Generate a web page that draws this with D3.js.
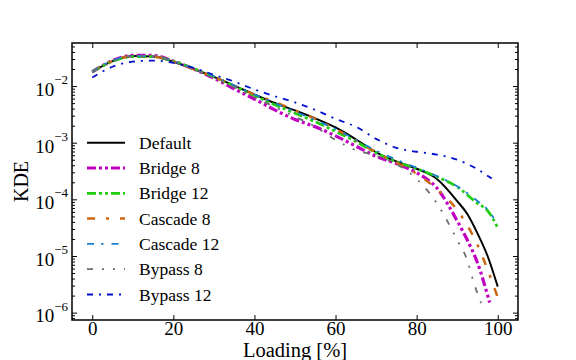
<!DOCTYPE html>
<html>
<head>
<meta charset="utf-8">
<script src="https://cdn.jsdelivr.net/npm/d3@7"></script>
<style>
  body { margin: 0; background: #fff; }
</style>
</head>
<body>
<div id="chart"></div>
<script>
// valeurs : [loading %, KDE]
const defaultKDE = [[0,1.78e-2],[5,2.75e-2],[10,3.39e-2],[15,3.31e-2],[20,2.69e-2],[25,2.00e-2],[30,1.45e-2],[35,1.02e-2],[40,7.08e-3],[45,5.01e-3],[50,3.72e-3],[55,2.69e-3],[60,1.86e-3],[65,1.15e-3],[70,6.76e-4],[75,4.68e-4],[80,3.47e-4],[85,2.29e-4],[90,9.33e-5],[92.5,5.50e-5],[95,2.51e-5],[97.5,1.0e-5],[100,2.88e-6]];
const bridge8 = [[0,1.78e-2],[5,2.82e-2],[10,3.47e-2],[15,3.47e-2],[20,2.75e-2],[25,2.00e-2],[30,1.38e-2],[35,8.91e-3],[40,5.89e-3],[45,3.80e-3],[50,2.57e-3],[55,1.91e-3],[60,1.32e-3],[65,8.71e-4],[70,5.75e-4],[75,4.27e-4],[80,2.95e-4],[85,1.58e-4],[90,4.17e-5],[92.5,1.91e-5],[95,7.59e-6],[98,1.51e-6]];
const bridge12 = [[0,1.78e-2],[5,2.75e-2],[10,3.31e-2],[15,3.31e-2],[20,2.75e-2],[25,2.04e-2],[30,1.45e-2],[35,1.00e-2],[40,6.76e-3],[45,4.68e-3],[50,3.31e-3],[55,2.34e-3],[60,1.58e-3],[65,1.05e-3],[70,6.61e-4],[75,4.57e-4],[80,3.47e-4],[85,2.51e-4],[90,1.66e-4],[95,8.51e-5],[97.5,6.31e-5],[100,3.16e-5]];
const cascade8 = [[0,1.82e-2],[5,2.75e-2],[10,3.39e-2],[15,3.31e-2],[20,2.69e-2],[25,2.00e-2],[30,1.45e-2],[35,1.02e-2],[40,7.08e-3],[45,5.25e-3],[50,3.72e-3],[55,2.63e-3],[60,1.74e-3],[65,1.10e-3],[70,6.76e-4],[75,4.47e-4],[80,2.82e-4],[85,1.51e-4],[90,6.46e-5],[92.5,3.47e-5],[95,1.58e-5],[97.5,5.75e-6],[100,1.86e-6]];
const cascade12 = [[0,1.82e-2],[5,2.82e-2],[10,3.39e-2],[15,3.31e-2],[20,2.75e-2],[25,2.04e-2],[30,1.48e-2],[35,1.02e-2],[40,7.08e-3],[45,5.01e-3],[50,3.55e-3],[55,2.51e-3],[60,1.74e-3],[65,1.12e-3],[70,7.24e-4],[75,5.01e-4],[80,3.63e-4],[85,2.57e-4],[90,1.70e-4],[95,9.33e-5],[97.5,6.61e-5],[99,4.68e-5]];
const bypass8 = [[0,1.74e-2],[5,2.69e-2],[10,3.31e-2],[15,3.31e-2],[20,2.75e-2],[25,2.04e-2],[30,1.41e-2],[35,9.55e-3],[40,6.31e-3],[45,4.27e-3],[50,2.88e-3],[55,1.91e-3],[60,1.12e-3],[65,7.41e-4],[70,5.89e-4],[75,4.17e-4],[80,2.29e-4],[85,8.51e-5],[90,1.91e-5],[92.5,8.32e-6],[94,3.55e-6],[96,1.41e-6]];
const bypass12 = [[0,1.41e-2],[5,2.19e-2],[10,2.69e-2],[15,2.82e-2],[20,2.57e-2],[25,2.09e-2],[30,1.58e-2],[35,1.20e-2],[40,8.71e-3],[45,6.61e-3],[50,5.13e-3],[55,3.80e-3],[60,2.63e-3],[65,1.91e-3],[70,1.17e-3],[75,8.13e-4],[80,6.92e-4],[85,6.17e-4],[90,5.01e-4],[95,3.39e-4],[98.5,2.34e-4]];

const seriesNames = ["Default", "Bridge 8", "Bridge 12", "Cascade 8", "Cascade 12", "Bypass 8", "Bypass 12"];
const seriesData = [defaultKDE, bridge8, bridge12, cascade8, cascade12, bypass8, bypass12];
const xTicks = [0, 20, 40, 60, 80, 100];
const yTicks = [1e-6, 1e-5, 1e-4, 1e-3, 1e-2];

// styles des courbes
const colors = ["#000000", "#c000c0", "#22cc11", "#cc6611", "#1a80d0", "#6e6e6e", "#0010cc"];
const widths = [2, 3.2, 2.8, 2.5, 1.8, 1.8, 1.8];
const dashes = [null, "9,3,3,3,3,3", "9,3,3,3,3,3", "8,11,3,11", "7,7,2.5,8", "6,9,2,9,2,9", "6,6,2,6"];

const serif = "Liberation Serif";

const width = 576, height = 360;
const mLeft = 72, mRight = 518, mTop = 43, mBottom = 320;

const x = d3.scaleLinear().domain([-5, 105]).range([mLeft, mRight]);
const y = d3.scaleLog().domain([Math.pow(10, -6.13), Math.pow(10, -1.24)]).range([mBottom, mTop]);

const svg = d3.select("#chart").append("svg")
    .attr("width", width)
    .attr("height", height)
    .attr("font-family", serif);

svg.append("clipPath").attr("id", "clip")
  .append("rect")
    .attr("x", mLeft).attr("y", mTop)
    .attr("width", mRight - mLeft).attr("height", mBottom - mTop);

// courbes
const line = d3.line()
    .x(d => x(d[0]))
    .y(d => y(d[1]))
    .curve(d3.curveMonotoneX);

const g = svg.append("g").attr("clip-path", "url(#clip)");
seriesData.forEach((data, i) => {
  g.append("path")
    .attr("d", line(data))
    .attr("fill", "none")
    .attr("stroke", colors[i])
    .attr("stroke-width", widths[i])
    .attr("stroke-dasharray", dashes[i]);
});

// ticks mineurs du log
const minor = [];
yTicks.concat([1e-1]).forEach(t => {
  for (let k = 2; k <= 9; k++) minor.push(t / 10 * k);
});
const yMinor = minor.filter(v => v >= y.domain()[0] && v <= y.domain()[1]);

const fontSize = 19;

svg.append("g")
    .attr("transform", `translate(0,${mBottom})`)
    .call(d3.axisBottom(x).tickValues(xTicks).tickSize(-5).tickPadding(1.5))
    .call(s => s.attr("font-family", serif).attr("font-size", fontSize))
    .call(s => s.select(".domain").remove())
    .call(s => s.selectAll("text").attr("fill", "#000"));

svg.append("g")
    .attr("transform", `translate(0,${mTop})`)
    .call(d3.axisTop(x).tickValues(xTicks).tickSize(-5).tickFormat(""))
    .call(s => s.select(".domain").remove());

const exps = { 1e-6: "\u22126", 1e-5: "\u22125", 1e-4: "\u22124", 1e-3: "\u22123", 1e-2: "\u22122" };

const yAxis = svg.append("g")
    .attr("transform", `translate(${mLeft},0)`)
    .call(d3.axisLeft(y).tickValues(yTicks).tickSize(-5).tickFormat(""))
    .call(s => s.attr("font-family", serif).attr("font-size", fontSize))
    .call(s => s.select(".domain").remove());
yAxis.selectAll(".tick").append("text")
    .attr("x", -4)
    .attr("y", 9.3)
    .attr("text-anchor", "end")
    .attr("fill", "#000")
    .each(function(d) {
      const t = d3.select(this);
      t.append("tspan").text("10");
      t.append("tspan").attr("dy", -11.7).attr("font-size", 13).text(exps[d]);
    });

svg.append("g")
    .attr("transform", `translate(${mLeft},0)`)
    .call(d3.axisLeft(y).tickValues(yMinor).tickSize(-3).tickFormat(""))
    .call(s => s.select(".domain").remove());

svg.append("g")
    .attr("transform", `translate(${mRight},0)`)
    .call(d3.axisRight(y).tickValues(yTicks).tickSize(-5).tickFormat(""))
    .call(s => s.select(".domain").remove());

svg.append("g")
    .attr("transform", `translate(${mRight},0)`)
    .call(d3.axisRight(y).tickValues(yMinor).tickSize(-3).tickFormat(""))
    .call(s => s.select(".domain").remove());

svg.selectAll(".tick line").attr("stroke", "#000").attr("stroke-width", 1);

// cadre
svg.append("rect")
    .attr("x", mLeft).attr("y", mTop)
    .attr("width", mRight - mLeft).attr("height", mBottom - mTop)
    .attr("fill", "none")
    .attr("stroke", "#000")
    .attr("stroke-width", 1.5);

// titres des axes
svg.append("text")
    .attr("x", (mLeft + mRight) / 2)
    .attr("y", 357)
    .attr("text-anchor", "middle")
    .attr("font-size", 20.5)
    .text("Loading [%]");

svg.append("text")
    .attr("transform", `translate(28,${(mTop + mBottom) / 2}) rotate(-90)`)
    .attr("text-anchor", "middle")
    .attr("font-size", 20)
    .text("KDE");

// légende
const legend = svg.append("g").attr("font-size", 17.5);
seriesNames.forEach((name, i) => {
  const ly = 142.7 + i * 25.3;
  legend.append("line")
    .attr("x1", 87).attr("x2", 125)
    .attr("y1", ly).attr("y2", ly)
    .attr("stroke", colors[i])
    .attr("stroke-width", widths[i])
    .attr("stroke-dasharray", dashes[i]);
  legend.append("text")
    .attr("x", 139)
    .attr("y", ly + 6)
    .text(name);
});
</script>
</body>
</html>
